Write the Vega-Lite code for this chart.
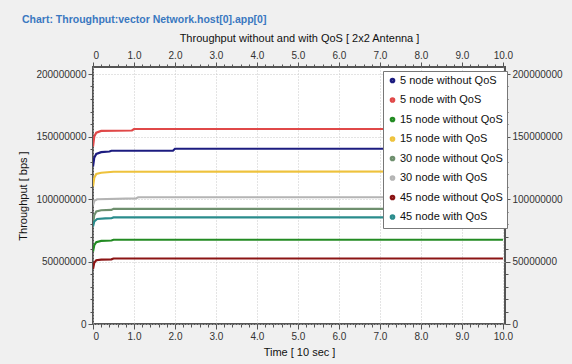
{
  "$schema": "https://vega.github.io/schema/vega-lite/v6.json",
  "autosize": {"type": "none"},
  "width": 412,
  "height": 257,
  "padding": {"left": 93, "top": 67, "right": 67, "bottom": 40},
  "background": "#f0f0f0",
  "title": {
    "text": "Chart: Throughput:vector Network.host[0].app[0]",
    "anchor": "start",
    "frame": "group",
    "dx": -71,
    "offset": 7,
    "fontSize": 10.5,
    "fontWeight": "bold",
    "color": "#3a78c0"
  },
  "config": {
    "font": "Liberation Sans",
    "view": {"fill": "white", "stroke": "#555", "strokeWidth": 2}
  },
  "data": {
    "values": [
      {"t": 0, "v": 126000000, "s": "5 node without QoS"},
      {"t": 0.03, "v": 133000000, "s": "5 node without QoS"},
      {"t": 0.08, "v": 136000000, "s": "5 node without QoS"},
      {"t": 0.2, "v": 137500000, "s": "5 node without QoS"},
      {"t": 0.4, "v": 138000000, "s": "5 node without QoS"},
      {"t": 0.45, "v": 138600000, "s": "5 node without QoS"},
      {"t": 1.95, "v": 138600000, "s": "5 node without QoS"},
      {"t": 2.0, "v": 140200000, "s": "5 node without QoS"},
      {"t": 10, "v": 140200000, "s": "5 node without QoS"},

      {"t": 0, "v": 142000000, "s": "5 node with QoS"},
      {"t": 0.03, "v": 150000000, "s": "5 node with QoS"},
      {"t": 0.08, "v": 153000000, "s": "5 node with QoS"},
      {"t": 0.2, "v": 154500000, "s": "5 node with QoS"},
      {"t": 0.95, "v": 154800000, "s": "5 node with QoS"},
      {"t": 1.0, "v": 156000000, "s": "5 node with QoS"},
      {"t": 10, "v": 156000000, "s": "5 node with QoS"},

      {"t": 0, "v": 58000000, "s": "15 node without QoS"},
      {"t": 0.03, "v": 63000000, "s": "15 node without QoS"},
      {"t": 0.08, "v": 65500000, "s": "15 node without QoS"},
      {"t": 0.2, "v": 66500000, "s": "15 node without QoS"},
      {"t": 0.45, "v": 66800000, "s": "15 node without QoS"},
      {"t": 0.5, "v": 67400000, "s": "15 node without QoS"},
      {"t": 10, "v": 67400000, "s": "15 node without QoS"},

      {"t": 0, "v": 110000000, "s": "15 node with QoS"},
      {"t": 0.03, "v": 117000000, "s": "15 node with QoS"},
      {"t": 0.08, "v": 120000000, "s": "15 node with QoS"},
      {"t": 0.2, "v": 121000000, "s": "15 node with QoS"},
      {"t": 0.5, "v": 121800000, "s": "15 node with QoS"},
      {"t": 10, "v": 122000000, "s": "15 node with QoS"},

      {"t": 0, "v": 80000000, "s": "30 node without QoS"},
      {"t": 0.03, "v": 87000000, "s": "30 node without QoS"},
      {"t": 0.08, "v": 90000000, "s": "30 node without QoS"},
      {"t": 0.2, "v": 91000000, "s": "30 node without QoS"},
      {"t": 0.45, "v": 91300000, "s": "30 node without QoS"},
      {"t": 0.5, "v": 92100000, "s": "30 node without QoS"},
      {"t": 10, "v": 92100000, "s": "30 node without QoS"},

      {"t": 0, "v": 95000000, "s": "30 node with QoS"},
      {"t": 0.03, "v": 98500000, "s": "30 node with QoS"},
      {"t": 0.1, "v": 99800000, "s": "30 node with QoS"},
      {"t": 1.05, "v": 100500000, "s": "30 node with QoS"},
      {"t": 1.1, "v": 101400000, "s": "30 node with QoS"},
      {"t": 10, "v": 101400000, "s": "30 node with QoS"},

      {"t": 0, "v": 44000000, "s": "45 node without QoS"},
      {"t": 0.03, "v": 49000000, "s": "45 node without QoS"},
      {"t": 0.08, "v": 51000000, "s": "45 node without QoS"},
      {"t": 0.2, "v": 51500000, "s": "45 node without QoS"},
      {"t": 0.45, "v": 51700000, "s": "45 node without QoS"},
      {"t": 0.5, "v": 52400000, "s": "45 node without QoS"},
      {"t": 10, "v": 52400000, "s": "45 node without QoS"},

      {"t": 0, "v": 78000000, "s": "45 node with QoS"},
      {"t": 0.03, "v": 82000000, "s": "45 node with QoS"},
      {"t": 0.1, "v": 84000000, "s": "45 node with QoS"},
      {"t": 0.3, "v": 84500000, "s": "45 node with QoS"},
      {"t": 0.45, "v": 84600000, "s": "45 node with QoS"},
      {"t": 0.5, "v": 85300000, "s": "45 node with QoS"},
      {"t": 10, "v": 85300000, "s": "45 node with QoS"}
    ]
  },
  "resolve": {"axis": {"x": "independent", "y": "independent"}},
  "layer": [
    {
      "mark": {"type": "line", "strokeWidth": 2.2, "clip": true},
      "encoding": {
        "x": {
          "field": "t", "type": "quantitative",
          "scale": {"domain": [0, 10.05], "nice": false, "zero": false},
          "axis": {
            "orient": "bottom",
            "title": "Time [ 10 sec ]",
            "titleFontSize": 11, "titleFontWeight": "normal", "titleColor": "#111",
            "titleY": 28, "titleBaseline": "middle",
            "values": [0,0.2,0.4,0.6,0.8,1,1.2,1.4,1.6,1.8,2,2.2,2.4,2.6,2.8,3,3.2,3.4,3.6,3.8,4,4.2,4.4,4.6,4.8,5,5.2,5.4,5.6,5.8,6,6.2,6.4,6.6,6.8,7,7.2,7.4,7.6,7.8,8,8.2,8.4,8.6,8.8,9,9.2,9.4,9.6,9.8,10],
            "labelExpr": "abs(datum.value - round(datum.value)) > 0.001 ? '' : (datum.value == 0 ? '0' : format(datum.value, '.1f'))",
            "labelOverlap": false,
            "labelFontSize": 10, "labelColor": "#333", "labelPadding": 2,
            "domain": false,
            "tickColor": "#555",
            "tickSize": {"condition": {"test": "abs(datum.value - round(datum.value)) < 0.001", "value": 5}, "value": 3},
            "grid": true,
            "gridColor": "#c8c8c8",
            "gridDash": [1, 2],
            "gridOpacity": {"condition": {"test": "abs(datum.value - round(datum.value)) < 0.001", "value": 1}, "value": 0}
          }
        },
        "y": {
          "field": "v", "type": "quantitative",
          "scale": {"domain": [0, 205600000], "nice": false},
          "axis": {
            "orient": "left",
            "title": "Throughput [ bps ]",
            "titleFontSize": 11, "titleFontWeight": "normal", "titleColor": "#111",
            "titleX": -65,
            "values": [0,10000000,20000000,30000000,40000000,50000000,60000000,70000000,80000000,90000000,100000000,110000000,120000000,130000000,140000000,150000000,160000000,170000000,180000000,190000000,200000000],
            "labelExpr": "datum.value % 50000000 == 0 ? format(datum.value, 'd') : ''",
            "labelOverlap": false,
            "labelFontSize": 10, "labelColor": "#333", "labelPadding": 2,
            "domain": false,
            "tickColor": "#555",
            "tickSize": {"condition": {"test": "datum.value % 50000000 == 0", "value": 5}, "value": 3},
            "grid": true,
            "gridColor": "#c8c8c8",
            "gridDash": [1, 2],
            "gridOpacity": {"condition": {"test": "datum.value % 50000000 == 0", "value": 1}, "value": 0}
          }
        },
        "color": {
          "field": "s", "type": "nominal",
          "scale": {
            "domain": ["5 node without QoS", "5 node with QoS", "15 node without QoS", "15 node with QoS", "30 node without QoS", "30 node with QoS", "45 node without QoS", "45 node with QoS"],
            "range": ["#1c1c80", "#e04848", "#238b23", "#eec23c", "#6e8f6e", "#b4b4b4", "#8b1414", "#2a8c8c"]
          },
          "legend": {
            "title": null,
            "orient": "none",
            "legendX": 290,
            "legendY": 4,
            "fillColor": "white",
            "strokeColor": "#777",
            "padding": 4,
            "labelFontSize": 11,
            "labelColor": "#111",
            "labelOffset": 2,
            "symbolType": "circle",
            "symbolSize": 10,
            "symbolStrokeWidth": 2.5,
            "rowPadding": 4.5
          }
        }
      }
    },
    {
      "mark": {"type": "line", "opacity": 0},
      "encoding": {
        "x": {
          "field": "t", "type": "quantitative",
          "axis": {
            "orient": "top",
            "title": "Throughput without and with QoS [ 2x2 Antenna ]",
            "titleFontSize": 11, "titleFontWeight": "normal", "titleColor": "#111",
            "titleY": -29, "titleBaseline": "middle",
            "values": [0,0.2,0.4,0.6,0.8,1,1.2,1.4,1.6,1.8,2,2.2,2.4,2.6,2.8,3,3.2,3.4,3.6,3.8,4,4.2,4.4,4.6,4.8,5,5.2,5.4,5.6,5.8,6,6.2,6.4,6.6,6.8,7,7.2,7.4,7.6,7.8,8,8.2,8.4,8.6,8.8,9,9.2,9.4,9.6,9.8,10],
            "labelExpr": "abs(datum.value - round(datum.value)) > 0.001 ? '' : (datum.value == 0 ? '0' : format(datum.value, '.1f'))",
            "labelOverlap": false,
            "labelFontSize": 10, "labelColor": "#333", "labelPadding": 2,
            "domain": false, "grid": false,
            "tickColor": "#555",
            "tickSize": {"condition": {"test": "abs(datum.value - round(datum.value)) < 0.001", "value": 5}, "value": 3}
          }
        },
        "y": {
          "field": "v", "type": "quantitative",
          "axis": {
            "orient": "right",
            "title": null,
            "values": [0,10000000,20000000,30000000,40000000,50000000,60000000,70000000,80000000,90000000,100000000,110000000,120000000,130000000,140000000,150000000,160000000,170000000,180000000,190000000,200000000],
            "labelExpr": "datum.value % 50000000 == 0 ? format(datum.value, 'd') : ''",
            "labelOverlap": false,
            "labelFontSize": 10, "labelColor": "#333", "labelPadding": 2,
            "domain": false, "grid": false,
            "tickColor": "#555",
            "tickSize": {"condition": {"test": "datum.value % 50000000 == 0", "value": 5}, "value": 3}
          }
        },
        "detail": {"field": "s", "type": "nominal"}
      }
    }
  ]
}
